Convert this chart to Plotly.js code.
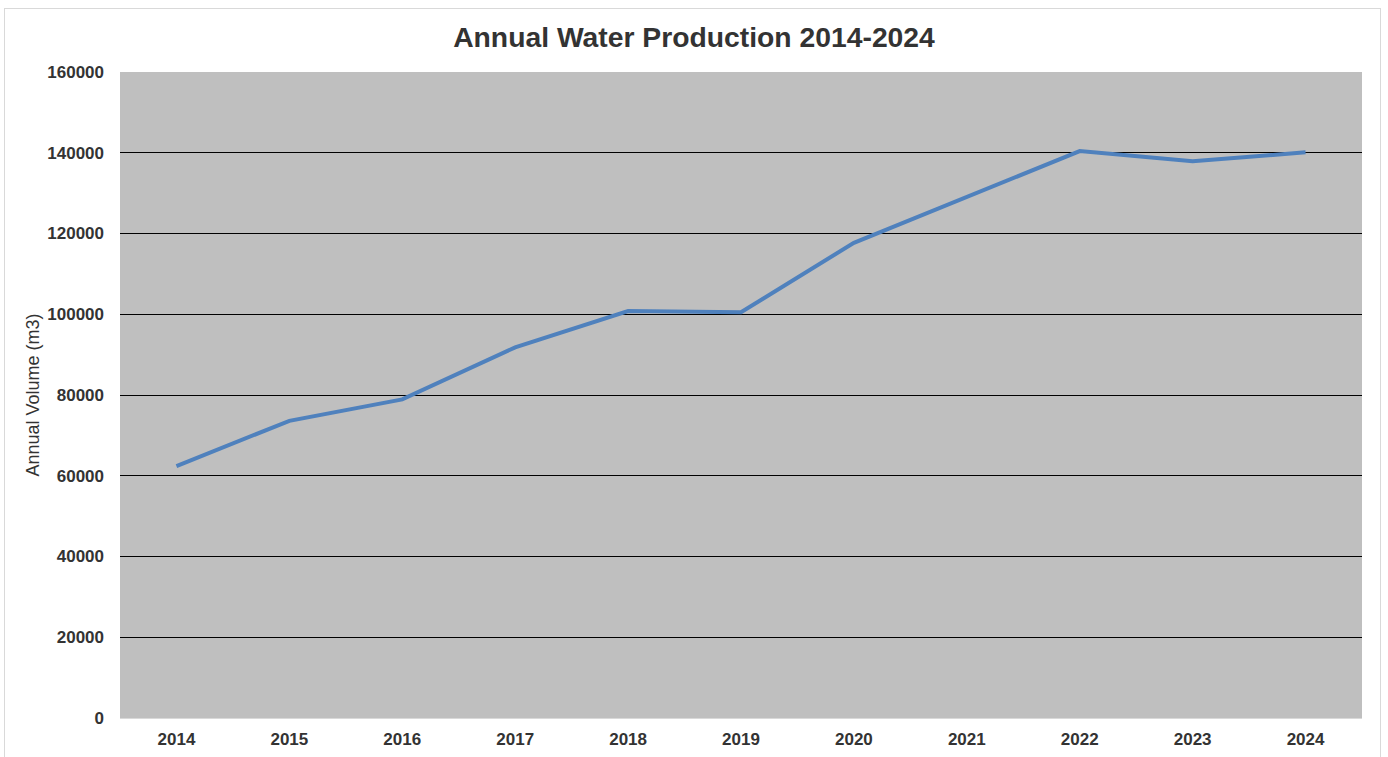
<!DOCTYPE html>
<html>
<head>
<meta charset="utf-8">
<script src="https://cdn.plot.ly/plotly-3.0.1.min.js"></script>
<style>
  html, body { margin: 0; padding: 0; background: #ffffff; }
  #chart { width: 1388px; height: 757px; }
  #frame { position: absolute; left: 4px; top: 8px; width: 1375px; height: 760px; border: 1px solid #d9d9d9; pointer-events: none; }
</style>
</head>
<body>
<div id="chart"></div>
<div id="frame"></div>
<script>
const years = ["2014", "2015", "2016", "2017", "2018", "2019", "2020", "2021", "2022", "2023", "2024"];
const annualVolume = [62400, 73600, 78900, 91800, 100800, 100500, 117700, 129000, 140400, 137900, 140100];
const yTicks = [0, 20000, 40000, 60000, 80000, 100000, 120000, 140000, 160000];

const trace = {
  x: years,
  y: annualVolume,
  type: "scatter",
  mode: "lines",
  line: { color: "#4f81bd", width: 4 },
  hoverinfo: "x+y"
};

const layout = {
  width: 1388,
  height: 757,
  margin: { l: 120, r: 26, t: 72, b: 39 },
  paper_bgcolor: "#ffffff",
  plot_bgcolor: "#bfbfbf",
  showlegend: false,
  title: {
    text: "<b>Annual Water Production 2014-2024</b>",
    font: { family: "Liberation Sans, Arial, sans-serif", size: 28.3, color: "#333333" },
    x: 0.5, xanchor: "center", y: 0.951, yanchor: "middle"
  },
  xaxis: {
    type: "category",
    categoryorder: "array",
    categoryarray: years,
    range: [-0.5, years.length - 0.5],
    showgrid: false,
    zeroline: false,
    showline: true,
    linecolor: "#d9d9d9",
    linewidth: 1,
    ticks: "",
    tickfont: { family: "Liberation Sans, Arial, sans-serif", size: 17, color: "#333333", weight: "bold" },
    ticklabelstandoff: 6
  },
  yaxis: {
    range: [0, 160000],
    tickvals: yTicks,
    ticktext: yTicks.map(String),
    showgrid: true,
    gridcolor: "#000000",
    gridwidth: 1,
    zeroline: false,
    showline: false,
    ticks: "",
    tickfont: { family: "Liberation Sans, Arial, sans-serif", size: 17, color: "#333333", weight: "bold" },
    ticklabelstandoff: 15,
    title: {
      text: "Annual Volume (m3)",
      font: { family: "Liberation Sans, Arial, sans-serif", size: 18, color: "#333333" },
      standoff: 2
    }
  }
};

Plotly.newPlot("chart", [trace], layout, { displayModeBar: false, staticPlot: true });
</script>
</body>
</html>
